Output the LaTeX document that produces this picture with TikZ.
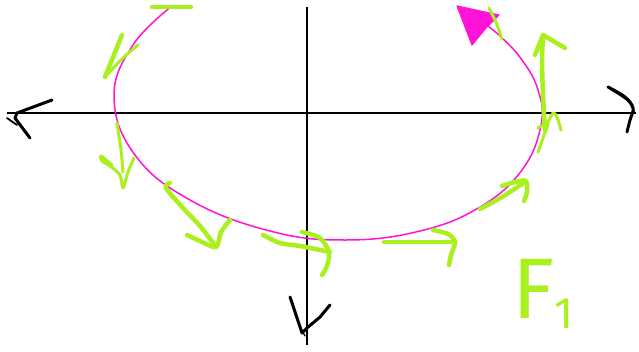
\documentclass[tikz,border=0pt]{standalone}
\usepackage{fontspec}
\setsansfont{Fira Sans}
\definecolor{hlgreen}{RGB}{170,240,30}
\definecolor{hlmag}{RGB}{255,20,215}
\tikzset{
  axisline/.style={line width=1.8pt,black},
  axhead/.style={line width=3pt,black,line cap=round,line join=round},
  orbit/.style={line width=1.5pt,hlmag},
  gstroke/.style={line width=4.5pt,hlgreen,line cap=round,line join=round},
  gthin/.style={line width=3pt,hlgreen,line cap=round,line join=round},
}
\begin{document}
\begin{tikzpicture}[x=1pt,y=-1pt]
\useasboundingbox (0,0) rectangle (639,351);
\fill[white] (0,0) rectangle (639,351);

% axes
\coordinate (xl) at (7,113);
\coordinate (xr) at (636,113);
\coordinate (yt) at (307,7);
\coordinate (yb) at (307,345);
\draw[axisline] (xl) -- (xr);
\draw[axisline] (yt) -- (yb);

% hand-drawn axis heads
\draw[axhead] (52,100) -- (17,113) -- (15,118) -- (30,138);
\draw[line width=1.8pt,black,line cap=round] (7,118) -- (17,125);
\draw[axhead] plot[smooth,tension=0.6] coordinates {(608,87) (625,97) (633,108) (630,120) (627,132)};
\draw[line width=1.6pt,black,line cap=round] plot[smooth,tension=0.6] coordinates {(610,89) (628,101) (634,112)};
\draw[axhead] (290,297) -- (302,333) -- (307,328) -- (320,317) -- (330,305);
\draw[line width=1.2pt,black,line cap=round] (291,299) -- (300,327) -- (305,336);

% magenta orbit
\draw[orbit] plot[smooth,tension=0.7] coordinates {
 (172,6) (133,45) (114,97) (135,155) (190,200) (270,231) (345,240)
 (420,231) (480,207) (522,170) (541,125) (538,90) (522,60) (500,36) (482,22)};
\fill[hlmag] (457,6) -- (499,15) -- (486,28) -- (472,45) -- cycle;
\draw[hlmag,line width=1.2pt,line join=round] (457,6) -- (499,15) -- (486,28) -- (472,45) -- cycle;

% green arrows
\draw[gstroke] (152,7) -- (191,7);
\draw[gstroke] (122,35) -- (105,77);
\draw[gthin] plot[smooth,tension=0.6] coordinates {(105,77) (123,58) (138,45)};
\draw[gthin] plot[smooth,tension=0.5] coordinates {(117,123) (121,150) (123,172)};
\draw[gthin] plot[smooth,tension=0.5] coordinates {(112,165) (101,156) (102,161) (110,166) (120,175) (123,188) (128,172) (134,158)};
\draw[gstroke] plot[smooth,tension=0.5] coordinates {(170,183) (166,188) (183,208) (200,226) (216,247)};
\draw[gstroke] plot[smooth,tension=0.5] coordinates {(187,235) (200,241) (216,247) (221,232) (230,220)};
\draw[gstroke] plot[smooth,tension=0.5] coordinates {(263,235) (280,243) (300,246) (330,252)};
\draw[gstroke] plot[smooth,tension=0.5] coordinates {(302,232) (320,238) (329,252) (327,266) (322,275)};
\draw[gstroke] plot[smooth,tension=0.5] coordinates {(384,242) (420,242) (455,242)};
\draw[gstroke] plot[smooth,tension=0.5] coordinates {(433,230) (448,234) (455,242) (451,255) (449,265)};
\draw[gstroke] plot[smooth,tension=0.5] coordinates {(480,209) (502,197) (525,182)};
\draw[gstroke] plot[smooth,tension=0.5] coordinates {(502,186) (515,182) (526,181) (527,192) (524,201)};
\draw[gthin] (489,8) -- (496,22) -- (502,39);
\draw[gstroke] plot[smooth,tension=0.5] coordinates {(545,130) (543,95) (542,60) (543,37)};
\draw[gstroke] (535,55) -- (543,35) -- (565,48);
\draw[gthin] plot[smooth,tension=0.5] coordinates {(538,152) (544,135) (548,123) (538,128)};
\draw[gthin] plot[smooth,tension=0.5] coordinates {(548,122) (553,113) (557,117) (561,130)};

% label
\node[text=hlgreen,font=\sffamily\fontsize{86}{86}\selectfont,inner sep=0pt,anchor=base west] (f1) at (512,318)
  {F\raisebox{-0.12em}{\fontsize{44}{44}\selectfont 1}};
\end{tikzpicture}
\end{document}
